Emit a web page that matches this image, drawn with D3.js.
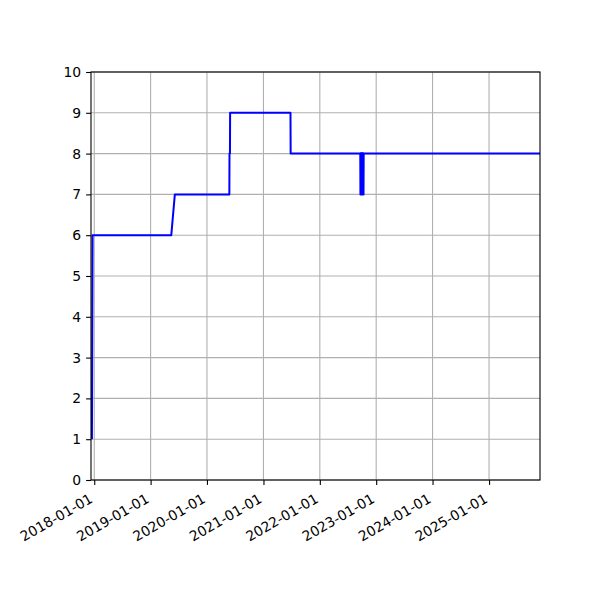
<!DOCTYPE html>
<html><head><meta charset="utf-8">
<script src="https://cdn.jsdelivr.net/npm/d3@7"></script>
<style>body{margin:0;background:#fff}svg{display:block}text{font-family:"DejaVu Sans",sans-serif}</style>
</head><body><svg id="c" width="600" height="600"></svg>
<script>
const xDomain = ["2017-12-11","2025-11-27"];
const dates = ["2017-12-17","2017-12-21","2019-05-15","2019-06-07","2020-05-25","2020-05-26","2020-05-29","2020-05-30","2021-06-25","2021-06-26",
  "2022-09-20","2022-09-21","2022-09-22","2022-09-23","2022-09-24","2022-09-25","2022-09-26","2022-09-27","2022-09-28","2022-09-29",
  "2022-09-30","2022-10-01","2022-10-02","2022-10-03","2022-10-04","2022-10-05","2022-10-06","2022-10-07","2022-10-08","2022-10-09",
  "2022-10-10","2022-10-11","2022-10-12","2025-11-27"];
const values = [1,6,6,7,7,8,8,9,9,8,
  8,7,8,7,8,7,8,7,8,7,
  8,7,8,7,8,7,8,7,8,7,
  8,7,8,8];
const xTickLabels = ["2018-01-01","2019-01-01","2020-01-01","2021-01-01","2022-01-01","2023-01-01","2024-01-01","2025-01-01"];
const yTicks = [0,1,2,3,4,5,6,7,8,9,10];

const parse = d3.utcParse("%Y-%m-%d");
const data = dates.map((d,i)=>({date:parse(d), v:values[i]}));
const L=91, R=540, T=72, B=480;
const svg = d3.select("#c");
const x = d3.scaleUtc().domain(xDomain.map(parse)).range([L,R]);
const y = d3.scaleLinear().domain([0,10]).range([B,T]);
const xt = xTickLabels.map(parse);

// grid
const g = svg.append("g");
g.selectAll(".gx").data(xt).enter().append("line")
  .attr("x1",d=>x(d)).attr("x2",d=>x(d)).attr("y1",T).attr("y2",B)
  .attr("stroke","#b0b0b0").attr("stroke-width",1.1);
g.selectAll(".gy").data(yTicks).enter().append("line")
  .attr("x1",L).attr("x2",R).attr("y1",d=>y(d)).attr("y2",d=>y(d))
  .attr("stroke","#b0b0b0").attr("stroke-width",1.1);

// line
svg.append("clipPath").attr("id","cp").append("rect").attr("x",L).attr("y",T).attr("width",R-L).attr("height",B-T);
svg.append("path").datum(data)
  .attr("clip-path","url(#cp)")
  .attr("d", d3.line().x(d=>x(d.date)).y(d=>y(d.v)))
  .attr("fill","none").attr("stroke","#0000ff").attr("stroke-width",2).attr("stroke-linejoin","round");

// axes
const xAxis = d3.axisBottom(x).tickValues(xt).tickFormat(d3.utcFormat("%Y-%m-%d")).tickSize(4.9).tickPadding(3);
const xg = svg.append("g").attr("transform",`translate(0,${B})`).call(xAxis);
xg.select(".domain").remove();
xg.selectAll("line").attr("stroke","#000").attr("stroke-width",1.1);
xg.selectAll("text").attr("font-size","13.9px").attr("fill","#000")
  .attr("text-anchor","end").attr("dy",null).attr("y",null)
  .attr("transform","translate(-3,18) rotate(-30)").attr("dominant-baseline","middle");

const yAxis = d3.axisLeft(y).tickValues(yTicks).tickSize(4.9).tickPadding(4.9);
const yg = svg.append("g").attr("transform",`translate(${L},0)`).call(yAxis);
yg.select(".domain").remove();
yg.selectAll("line").attr("stroke","#000").attr("stroke-width",1.1);
yg.selectAll("text").attr("font-size","13.9px").attr("fill","#000");

svg.append("rect").attr("x",L).attr("y",T).attr("width",R-L).attr("height",B-T)
  .attr("fill","none").attr("stroke","#000").attr("stroke-width",1.1);
</script></body></html>
